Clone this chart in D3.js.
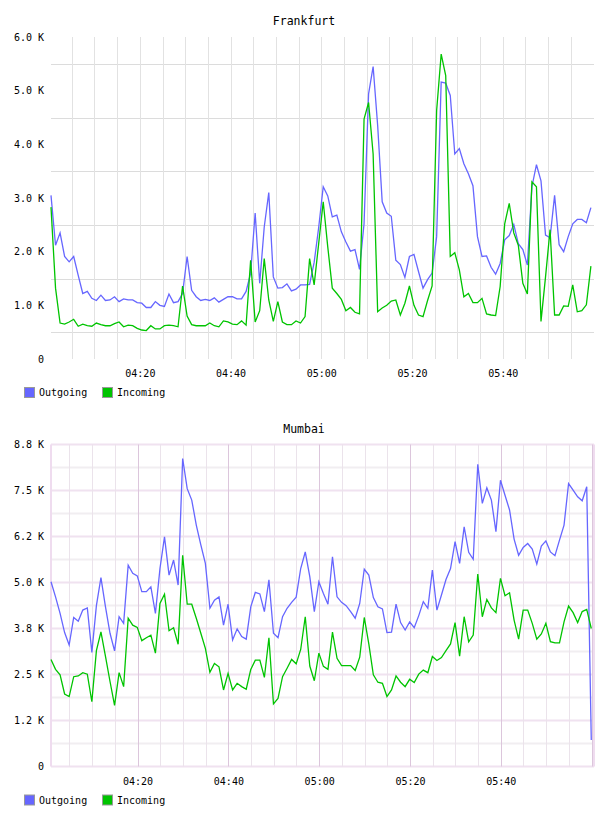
<!DOCTYPE html>
<html>
<head>
<meta charset="utf-8">
<script src="https://cdn.jsdelivr.net/npm/d3@7"></script>
<style>
  body { margin: 0; background: #fff; }
  svg { display: block; }
  text { font-family: "DejaVu Sans Mono", monospace; fill: #000; }
</style>
</head>
<body>
<div id="chart"></div>
<script>
// values in K, one point per minute
var frankfurtOutgoing = [
  3.05, 2.12, 2.35, 1.91, 1.81, 1.91, 1.56, 1.22, 1.26, 1.13,
  1.09, 1.19, 1.09, 1.10, 1.16, 1.07, 1.12, 1.10, 1.10, 1.05,
  1.04, 0.96, 0.96, 1.07, 1.00, 0.98, 1.21, 1.05, 1.07, 1.22,
  1.91, 1.28, 1.16, 1.09, 1.11, 1.09, 1.14, 1.06, 1.11, 1.16,
  1.16, 1.12, 1.12, 1.26, 1.60, 2.72, 1.41, 2.46, 3.10, 1.53,
  1.32, 1.33, 1.40, 1.27, 1.30, 1.38, 1.38, 1.39, 1.80, 2.45,
  3.21, 3.04, 2.65, 2.68, 2.37, 2.18, 2.01, 2.04, 1.67, 2.52,
  4.94, 5.45, 4.35, 2.93, 2.72, 2.66, 1.84, 1.76, 1.52, 1.91,
  1.95, 1.63, 1.32, 1.48, 1.60, 2.28, 5.16, 5.14, 4.91, 3.82,
  3.92, 3.64, 3.45, 3.23, 2.28, 1.91, 1.92, 1.71, 1.58, 1.78,
  2.22, 2.30, 2.51, 2.15, 2.04, 1.75, 3.21, 3.62, 3.32, 2.31,
  2.26, 3.05, 2.13, 2.00, 2.28, 2.52, 2.60, 2.60, 2.54, 2.82
];
var frankfurtIncoming = [
  2.83, 1.32, 0.67, 0.65, 0.69, 0.74, 0.61, 0.65, 0.62, 0.61,
  0.67, 0.64, 0.62, 0.62, 0.66, 0.69, 0.60, 0.63, 0.62, 0.57,
  0.54, 0.53, 0.62, 0.56, 0.56, 0.62, 0.63, 0.62, 0.60, 1.36,
  0.80, 0.64, 0.62, 0.62, 0.62, 0.67, 0.62, 0.60, 0.71, 0.69,
  0.65, 0.64, 0.71, 0.63, 1.84, 0.69, 0.90, 1.87, 1.10, 0.70,
  1.07, 0.69, 0.64, 0.64, 0.71, 0.67, 0.79, 1.87, 1.38, 2.15,
  2.93, 2.09, 1.32, 1.22, 1.11, 0.90, 0.96, 0.87, 0.84, 4.47,
  4.78, 3.82, 0.88, 0.95, 1.00, 1.08, 1.10, 0.82, 1.04, 1.36,
  1.00, 0.82, 0.79, 1.09, 1.36, 4.63, 5.68, 5.28, 1.91, 1.98,
  1.66, 1.16, 1.22, 1.05, 1.05, 1.13, 0.84, 0.82, 0.81, 1.35,
  2.52, 2.90, 2.35, 2.12, 1.41, 1.21, 3.30, 3.21, 0.70, 1.53,
  2.41, 0.82, 0.82, 0.99, 0.98, 1.38, 0.88, 0.90, 1.01, 1.73
];
var mumbaiOutgoing = [
  5.02, 4.61, 4.16, 3.64, 3.30, 4.05, 3.95, 4.25, 4.31, 3.10,
  4.37, 5.13, 4.34, 3.62, 3.14, 4.07, 3.89, 5.47, 5.25, 5.18,
  4.75, 4.75, 4.88, 4.16, 5.38, 6.24, 5.20, 5.61, 4.93, 8.37,
  7.55, 7.24, 6.56, 6.02, 5.52, 4.30, 4.52, 4.61, 3.84, 4.41,
  3.44, 3.74, 3.53, 3.46, 4.34, 4.73, 4.69, 4.21, 5.07, 3.62,
  3.50, 4.07, 4.30, 4.46, 4.60, 5.38, 5.83, 5.16, 4.21, 5.02,
  4.70, 4.41, 5.70, 4.61, 4.46, 4.37, 4.21, 4.03, 4.43, 5.36,
  5.20, 4.59, 4.34, 4.28, 3.64, 3.65, 4.41, 3.91, 3.71, 3.93,
  3.77, 4.10, 4.48, 4.30, 5.34, 4.25, 4.66, 5.08, 5.38, 6.11,
  5.52, 6.51, 5.82, 5.63, 8.21, 7.15, 7.57, 7.24, 6.38, 7.78,
  7.37, 6.97, 6.18, 5.74, 5.95, 6.06, 5.91, 5.50, 5.99, 6.13,
  5.83, 5.73, 6.15, 6.56, 7.69, 7.51, 7.33, 7.22, 7.60, 0.72
];
var mumbaiIncoming = [
  2.91, 2.64, 2.49, 1.97, 1.90, 2.44, 2.46, 2.55, 2.51, 1.76,
  3.15, 3.66, 2.99, 2.31, 1.66, 2.55, 2.17, 4.03, 3.84, 3.78,
  3.42, 3.50, 3.57, 3.08, 4.43, 4.68, 3.69, 3.77, 3.32, 5.74,
  4.41, 4.41, 4.03, 3.62, 3.21, 2.56, 2.80, 2.71, 2.08, 2.53,
  2.08, 2.26, 2.17, 2.10, 2.64, 2.89, 2.89, 2.42, 3.50, 1.70,
  1.85, 2.44, 2.67, 2.91, 2.79, 3.18, 4.07, 2.73, 2.33, 3.08,
  2.72, 2.64, 3.65, 2.94, 2.74, 2.74, 2.74, 2.61, 2.97, 4.05,
  3.33, 2.49, 2.29, 2.26, 1.90, 2.08, 2.46, 2.29, 2.17, 2.37,
  2.28, 2.51, 2.62, 2.55, 2.99, 2.88, 2.96, 3.15, 3.33, 3.91,
  3.00, 4.07, 3.39, 3.57, 5.23, 4.07, 4.54, 4.31, 4.18, 5.11,
  4.64, 4.72, 3.98, 3.46, 4.25, 4.25, 3.89, 3.46, 3.60, 3.89,
  3.39, 3.36, 3.36, 3.93, 4.36, 4.18, 3.91, 4.21, 4.27, 3.75
];

var seriesNames = ["Outgoing", "Incoming"];
var seriesColors = ["#6666ff", "#00c400"];
var frankfurtYLabels = ["0", "1.0 K", "2.0 K", "3.0 K", "4.0 K", "5.0 K", "6.0 K"];
var mumbaiYLabels = ["0", "1.2 K", "2.5 K", "3.8 K", "5.0 K", "6.2 K", "7.5 K", "8.8 K"];
var xTickLabels = ["04:20", "04:40", "05:00", "05:20", "05:40"];

var width = 608, height = 816;
var parseTime = function(s) {
  var p = s.split(":").map(Number);
  return new Date(2000, 0, 1, p[0], p[1], p[2] || 0);
};

var svg = d3.select("#chart").append("svg")
  .attr("width", width)
  .attr("height", height);

var drawChart = function(config) {
  var { title, outgoing, incoming, yLabels, yStep, yMax, top, bottom, start, end, firstPoint, style } = config;
  var left = 51, right = 594;

  var g = svg.append("g");

  var xScale = d3.scaleTime()
    .domain([parseTime(start), parseTime(end)])
    .range([left, right]);

  var yScale = d3.scaleLinear()
    .domain([0, yMax])
    .range([bottom, top]);

  var t0 = parseTime(firstPoint);
  var toPoints = values => values.map((v, i) => ({
    date: d3.timeMinute.offset(t0, i),
    value: v
  }));

  var yTicks = yLabels.map((d, i) => i * yStep);

  // grid
  var grid = g.append("g").attr("class", "grid");
  var fiveMin = d3.timeMinute.every(5).range(xScale.domain()[0], xScale.domain()[1])
    .filter(d => xScale(d) < right - 2);

  if (style == "plain") {
    var halfSteps = yTicks.slice(0, -1).map(d => d + yStep / 2);
    grid.selectAll(".h")
      .data(halfSteps)
      .enter().append("line")
      .attr("x1", left).attr("x2", right)
      .attr("y1", d => Math.round(yScale(d)) + 0.5)
      .attr("y2", d => Math.round(yScale(d)) + 0.5)
      .attr("stroke", "#dcdcdc");
    grid.selectAll(".v")
      .data(fiveMin)
      .enter().append("line")
      .attr("x1", d => Math.round(xScale(d)) + 0.5)
      .attr("x2", d => Math.round(xScale(d)) + 0.5)
      .attr("y1", top).attr("y2", bottom)
      .attr("stroke", "#e2e2e2");
  } else {
    var halfSteps = yTicks.slice(0, -1).map(d => d + yStep / 2);
    grid.selectAll(".hminor")
      .data(halfSteps)
      .enter().append("line")
      .attr("x1", left).attr("x2", right)
      .attr("y1", d => yScale(d))
      .attr("y2", d => yScale(d))
      .attr("stroke", "#f1eef1")
      .attr("stroke-width", 2);
    grid.selectAll(".hmajor")
      .data(yTicks)
      .enter().append("line")
      .attr("x1", left).attr("x2", right)
      .attr("y1", d => yScale(d))
      .attr("y2", d => yScale(d))
      .attr("stroke", "#f0e2f0")
      .attr("stroke-width", 2);
    grid.selectAll(".v")
      .data(fiveMin)
      .enter().append("line")
      .attr("x1", d => Math.round(xScale(d)) + 0.5)
      .attr("x2", d => Math.round(xScale(d)) + 0.5)
      .attr("y1", top).attr("y2", bottom)
      .attr("stroke", d => d.getMinutes() % 20 == 0 ? "#dcc6dc" : "#ebe3eb");
    grid.selectAll(".edge")
      .data([left, right])
      .enter().append("line")
      .attr("x1", d => d).attr("x2", d => d)
      .attr("y1", top).attr("y2", bottom)
      .attr("stroke", "#efdcef")
      .attr("stroke-width", 2);
  }

  // axes
  var yAxis = d3.axisLeft(yScale)
    .tickValues(yTicks)
    .tickSize(0)
    .tickPadding(7)
    .tickFormat((d, i) => yLabels[i]);

  var yAxisG = g.append("g")
    .attr("transform", `translate(${left},0)`)
    .call(yAxis);

  var xAxis = d3.axisBottom(xScale)
    .tickValues(xTickLabels.map(parseTime))
    .tickSize(0)
    .tickPadding(11)
    .tickFormat(d3.timeFormat("%H:%M"));

  var xAxisG = g.append("g")
    .attr("transform", `translate(0,${bottom})`)
    .call(xAxis);

  [yAxisG, xAxisG].forEach(a => {
    a.select(".domain").remove();
    a.selectAll("text")
      .attr("fill", "#000")
      .style("font-family", "'DejaVu Sans Mono', monospace")
      .style("font-size", "10px");
  });

  // lines
  var line = d3.line()
    .x(d => xScale(d.date))
    .y(d => yScale(d.value));

  [outgoing, incoming].forEach((values, i) => {
    g.append("path")
      .datum(toPoints(values))
      .attr("fill", "none")
      .attr("stroke", seriesColors[i])
      .attr("stroke-width", 1.3)
      .attr("stroke-linejoin", "miter")
      .attr("d", line);
  });

  // title
  g.append("text")
    .attr("x", width / 2)
    .attr("y", top - 16)
    .attr("dy", "0.35em")
    .attr("text-anchor", "middle")
    .style("font-size", "11.5px")
    .text(title);

  // legend
  var legend = g.append("g")
    .attr("transform", `translate(24,${bottom + 28})`);

  var item = legend.selectAll("g")
    .data(seriesNames)
    .enter().append("g")
    .attr("transform", (d, i) => `translate(${i * 78},0)`);

  item.append("rect")
    .attr("x", 0.5).attr("y", 0.5)
    .attr("width", 10).attr("height", 10)
    .attr("fill", (d, i) => seriesColors[i])
    .attr("stroke", "#999");

  item.append("text")
    .attr("x", 15)
    .attr("y", 5.5)
    .attr("dy", "0.35em")
    .style("font-size", "10px")
    .text(d => d);
};

drawChart({
  title: "Frankfurt",
  outgoing: frankfurtOutgoing,
  incoming: frankfurtIncoming,
  yLabels: frankfurtYLabels,
  yStep: 1,
  yMax: 6,
  top: 37,
  bottom: 359,
  start: "04:00:25",
  end: "06:00:06",
  firstPoint: "04:00:25",
  style: "plain"
});

drawChart({
  title: "Mumbai",
  outgoing: mumbaiOutgoing,
  incoming: mumbaiIncoming,
  yLabels: mumbaiYLabels,
  yStep: 1.25,
  yMax: 8.75,
  top: 444.5,
  bottom: 766.5,
  start: "04:00:56",
  end: "06:00:32",
  firstPoint: "04:00:56",
  style: "pink"
});
</script>
</body>
</html>
